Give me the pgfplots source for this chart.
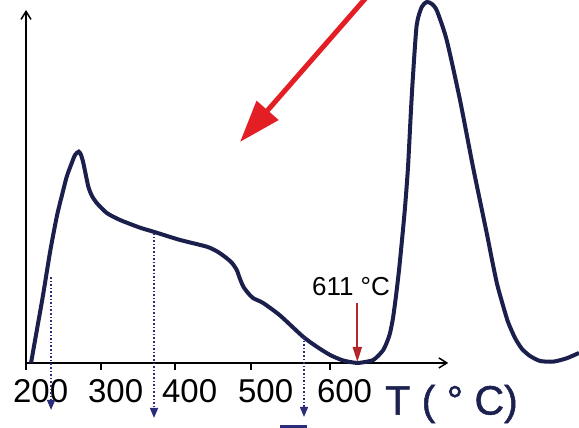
\documentclass[border=0pt]{standalone}
\usepackage{fontspec}
\setmainfont{Liberation Sans}
\usepackage{pgfplots}
\pgfplotsset{compat=1.18}
\usetikzlibrary{arrows.meta}

\definecolor{curve}{HTML}{1B1F4B}
\definecolor{dots}{HTML}{2A2D7A}
\definecolor{bigred}{HTML}{E31E24}
\definecolor{darkred}{HTML}{B5262B}
\definecolor{navytxt}{HTML}{1C2150}

\begin{document}
\begin{tikzpicture}
\begin{axis}[
    scale only axis,
    width=211.15pt, height=176.5pt,
    xmin=180.8, xmax=735.7,
    ymin=0, ymax=35.3,
    axis lines=left,
    axis line style={line width=0.75pt, -{Straight Barb[length=4pt,width=5pt]}},
    clip=false,
    ytick=\empty,
    xtick={180.8,279.4,376.6,476.5,580.2},
    xticklabels={200,300,400,500,600},
    tick align=outside,
    major tick length=3.5pt,
    xtick style={line width=0.75pt, black},
    xticklabel style={font=\fontsize{16.5}{19}\selectfont, xshift=7.3pt, yshift=-1pt},
]
% desorption curve
\addplot[curve, line width=2pt, smooth, tension=0.4] coordinates {
  (187.4,0) (195.3,3.4) (203.2,6.8) (212.4,11.1) (221.2,14.63) (228.1,16.8)
  (234.3,18.63) (239.9,19.8) (245.2,20.8) (250.1,21.13) (253.1,20.8) (256.1,20.0)
  (262.7,17.63) (267.5,16.7) (273.7,16.0) (286.9,15.0) (304.3,14.3) (330.6,13.53)
  (348.1,13.13) (383.2,12.3) (418.3,11.63) (433.1,11.1) (444.6,10.47) (451.5,10.0)
  (457.7,9.3) (462.0,8.4) (466.4,7.63) (472.5,7.0) (479.5,6.47) (492.3,6.0)
  (514.6,4.75) (544.8,2.63) (562.8,1.63) (580.3,0.8) (597.4,0.25) (615.8,0.0)
  (630.2,0.15) (637.2,0.3) (643.4,0.7) (650.3,1.3) (655.2,2.1) (659.2,3.0)
  (663.1,4.5) (667.0,6.7) (671.0,9.3) (674.9,12.3) (678.9,15.6)
  (682.8,19.6) (686.7,25.3) (689.4,28.8) (694.2,33.8)
  (700.8,35.6) (707.4,36.1) (714.3,35.9) (720.9,35.2) (733.6,32.3) (751.1,26.3)
  (768.2,19.6) (786.2,13.0) (793.2,10.3) (799.8,7.9) (806.3,6.1) (814.2,4.1)
  (823.4,2.5) (832.6,1.4) (843.1,0.7) (856.3,0.2) (873.7,0.13) (891.4,0.47) (907.5,1.0)
};
% dotted guide arrows
\addplot[dots, line width=0.8pt, densely dotted, -{Triangle[length=5pt,width=4pt]}] coordinates {(213.7,8.6) (213.7,-4.7)};
\addplot[dots, line width=0.8pt, densely dotted, -{Triangle[length=5pt,width=4pt]}] coordinates {(349.0,13.0) (349.0,-5.5)};
\addplot[dots, line width=0.8pt, densely dotted, -{Triangle[length=5pt,width=4pt]}] coordinates {(546.1,2.6) (546.1,-5.4)};
% 611 C marker
\addplot[darkred, line width=1pt, -{Triangle[length=7.5pt,width=4.5pt]}] coordinates {(616.2,6.0) (616.2,0.1)};
\node[font=\fontsize{13}{15}\selectfont] at (axis cs:607.9,7.6) {611 °C};
% big red arrow
\addplot[bigred, line width=2.5pt, -{Triangle[length=21pt,width=14pt]}] coordinates {(628.5,36.6) (462.0,22.1)};
% axis title
\node[navytxt, font=\fontsize{20.5}{24}\selectfont\addfontfeature{FakeBold=1.2}] at (axis cs:740,-4.1) {T ( ° C)};
\fill[dots] (axis cs:514.6,-6.2) rectangle (axis cs:550.1,-7);
\coordinate (BL) at (axis cs:146.6,-6.5);
\coordinate (TR) at (axis cs:907.5,36.3);
\end{axis}
\pgfresetboundingbox
\useasboundingbox (BL) rectangle (TR);
\end{tikzpicture}
\end{document}
